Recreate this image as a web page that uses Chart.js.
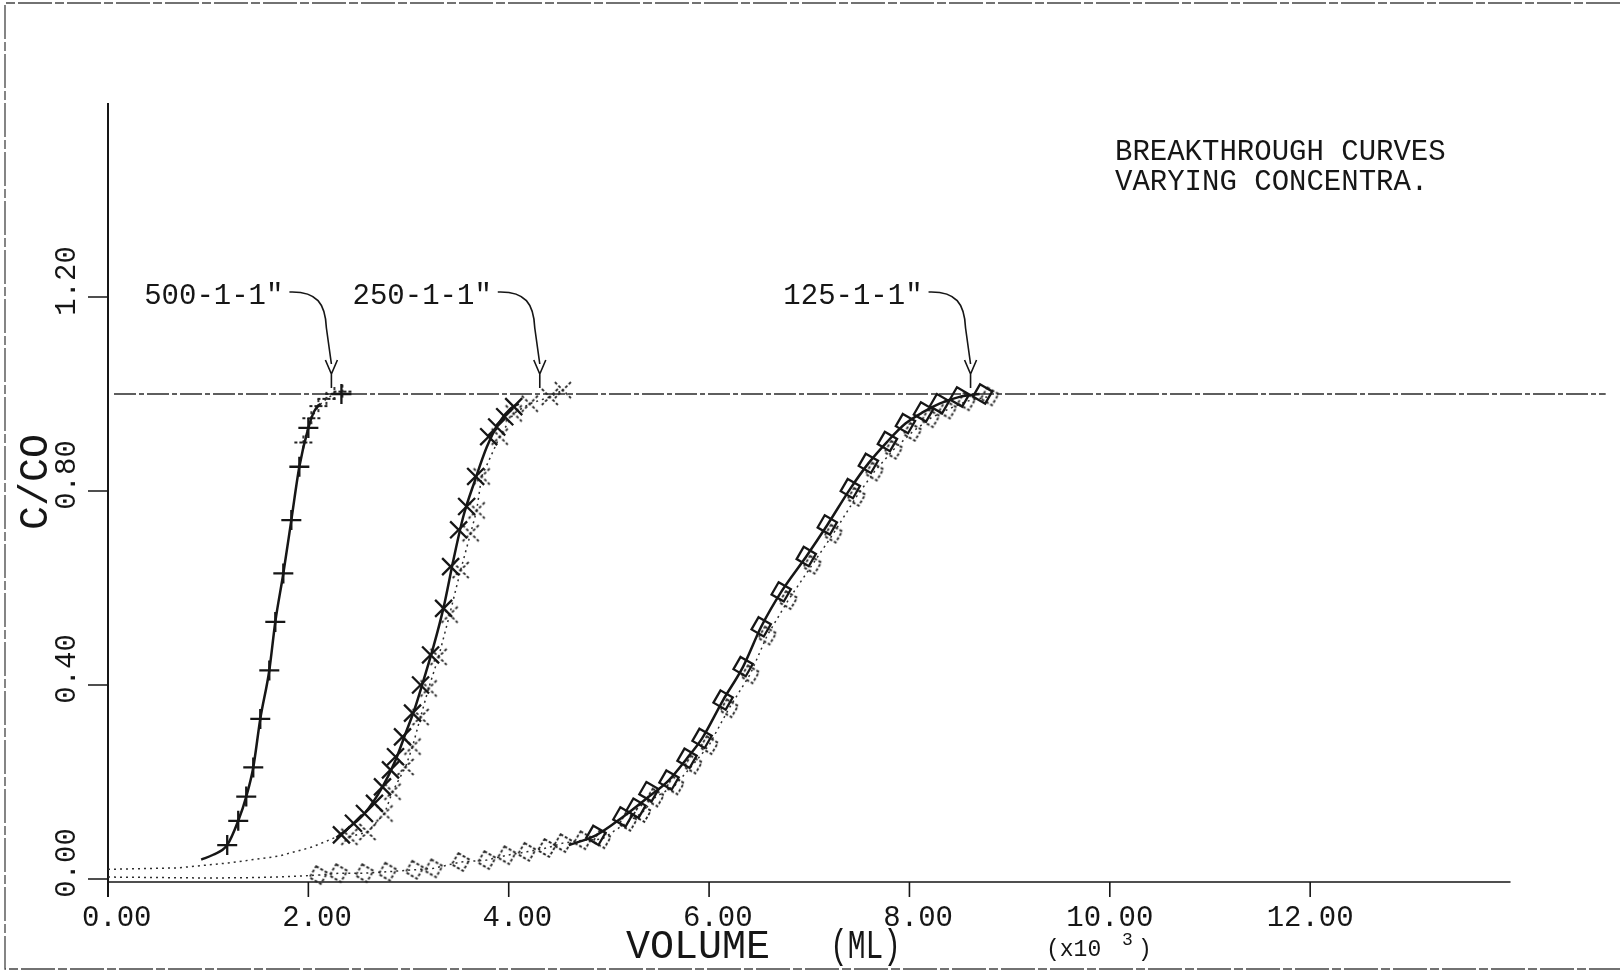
<!DOCTYPE html>
<html>
<head>
<meta charset="utf-8">
<script src="https://cdn.jsdelivr.net/npm/chart.js@4/dist/chart.umd.min.js"></script>
<style>
  html, body { margin: 0; padding: 0; background: #fff; }
  canvas { display: block; }
</style>
</head>
<body>
<canvas id="plot" width="1620" height="975"></canvas>
<script>
// volume in 10^3 mL, concentration as C/C0

// 500-1-1" run
const mk500X = [1.19, 1.30, 1.38, 1.45, 1.52, 1.61, 1.67, 1.75, 1.83, 1.91, 2.00, 2.33];
const mk500Y = [0.07, 0.12, 0.17, 0.23, 0.33, 0.43, 0.53, 0.63, 0.74, 0.85, 0.93, 1.00];
const fit500X = [0.93, 1.05, 1.19, 1.30, 1.38, 1.45, 1.52, 1.61, 1.67, 1.75, 1.83, 1.91, 2.00, 2.06, 2.12];
const fit500Y = [0.04, 0.05, 0.07, 0.12, 0.17, 0.23, 0.33, 0.43, 0.53, 0.63, 0.74, 0.85, 0.93, 0.965, 0.98];
const rep500X = [1.95, 2.03, 2.10, 2.18, 2.26, 2.34];
const rep500Y = [0.90, 0.95, 0.975, 0.99, 1.00, 1.005];

// 250-1-1" run
const mk250X = [2.33, 2.45, 2.56, 2.66, 2.74, 2.82, 2.87, 2.94, 3.04, 3.12, 3.22, 3.35, 3.42, 3.50, 3.58, 3.67, 3.80, 3.88, 3.96, 4.05];
const mk250Y = [0.091, 0.115, 0.135, 0.156, 0.19, 0.225, 0.252, 0.293, 0.342, 0.40, 0.462, 0.558, 0.644, 0.72, 0.768, 0.83, 0.912, 0.932, 0.953, 0.974];
const fit250X = [2.28, 2.40, 2.56, 2.74, 2.87, 2.97, 3.06, 3.15, 3.25, 3.35, 3.45, 3.55, 3.66, 3.78, 3.90, 4.02, 4.10];
const fit250Y = [0.085, 0.105, 0.135, 0.19, 0.245, 0.30, 0.35, 0.41, 0.48, 0.56, 0.66, 0.75, 0.82, 0.89, 0.94, 0.97, 0.98];
const rep250X = [2.41, 2.59, 2.76, 2.84, 2.97, 3.04, 3.12, 3.20, 3.30, 3.41, 3.52, 3.62, 3.68, 3.73, 3.91, 4.05, 4.21, 4.41, 4.54];
const rep250Y = [0.087, 0.097, 0.135, 0.18, 0.231, 0.273, 0.334, 0.393, 0.458, 0.545, 0.637, 0.713, 0.76, 0.83, 0.912, 0.96, 0.98, 0.994, 1.008];
const tail250X = [0.00, 0.70, 1.20, 1.70, 2.04, 2.33];
const tail250Y = [0.020, 0.023, 0.033, 0.047, 0.066, 0.091];

// 125-1-1" run
const mk125X = [4.87, 5.14, 5.27, 5.40, 5.60, 5.78, 5.93, 6.14, 6.34, 6.52, 6.72, 6.97, 7.18, 7.41, 7.59, 7.78, 7.96, 8.14, 8.30, 8.50, 8.73];
const mk125Y = [0.09, 0.128, 0.146, 0.18, 0.204, 0.249, 0.29, 0.369, 0.438, 0.52, 0.592, 0.665, 0.73, 0.805, 0.857, 0.902, 0.939, 0.963, 0.98, 0.994, 1.0];
const fit125X = [4.60, 4.87, 5.14, 5.40, 5.60, 5.78, 5.93, 6.14, 6.34, 6.52, 6.72, 6.97, 7.18, 7.41, 7.59, 7.78, 7.96, 8.14, 8.30, 8.50, 8.70];
const fit125Y = [0.07, 0.09, 0.128, 0.17, 0.204, 0.249, 0.29, 0.369, 0.438, 0.52, 0.592, 0.665, 0.73, 0.805, 0.857, 0.902, 0.939, 0.963, 0.98, 0.994, 1.0];
const rep125X = [2.10, 2.30, 2.56, 2.79, 3.06, 3.25, 3.52, 3.78, 3.98, 4.18, 4.38, 4.54, 4.74, 4.93, 5.19, 5.33, 5.46, 5.66, 5.84, 6.00, 6.20, 6.41, 6.58, 6.79, 7.03, 7.24, 7.47, 7.65, 7.84, 8.03, 8.21, 8.38, 8.57, 8.80];
const rep125Y = [0.008, 0.012, 0.012, 0.015, 0.019, 0.022, 0.035, 0.039, 0.049, 0.056, 0.064, 0.074, 0.080, 0.082, 0.118, 0.136, 0.168, 0.193, 0.236, 0.276, 0.352, 0.422, 0.502, 0.575, 0.648, 0.712, 0.788, 0.840, 0.885, 0.922, 0.950, 0.968, 0.985, 0.995];
const tail125X = [0.00, 0.50, 1.00, 1.50, 1.80, 2.10];
const tail125Y = [0.004, 0.003, 0.002, 0.003, 0.005, 0.008];

// C/C0 = 1 reference line
const refX = [0.06, 14.95];
const refY = [1.0, 1.0];

// axes
const xTicks = [0, 2, 4, 6, 8, 10, 12];
const yTicks = [0, 0.4, 0.8, 1.2];
const xAxisEnd = 14;
const yAxisEnd = 1.6;

// curve callouts
const curveLabels = ['500-1-1"', '250-1-1"', '125-1-1"'];
const arrowTipVol = [2.23, 4.31, 8.61];

const titleLines = ['BREAKTHROUGH CURVES', 'VARYING CONCENTRA.'];

const MONO = '"Liberation Mono", "DejaVu Sans Mono", monospace';
const INK = '#161616';

const pts = (xs, ys) => xs.map((v, i) => ({ x: v, y: ys[i] }));

// broken-stroke marker, like the second pen pass on the plotter
function dottedGlyph(kind) {
    const c = document.createElement('canvas');
    c.width = 26;
    c.height = 26;
    const g = c.getContext('2d');
    g.strokeStyle = '#222';
    g.lineWidth = 1.8;
    g.setLineDash([3, 2]);
    g.translate(13, 13);
    g.beginPath();
    if (kind === 'plus') {
        g.moveTo(-9, 0); g.lineTo(9, 0);
        g.moveTo(0, -7); g.lineTo(0, 7);
    } else if (kind === 'x') {
        g.moveTo(-8, -8); g.lineTo(8, 8);
        g.moveTo(8, -8); g.lineTo(-8, 8);
    } else {
        g.rotate(Math.PI / 6);
        g.rect(-6.5, -6.5, 13, 13);
    }
    g.stroke();
    return c;
}

function dottedLine(data, withGlyph) {
    return {
        data: data,
        showLine: true,
        borderColor: '#2e2e2e',
        borderWidth: 1.5,
        borderDash: [2, 4],
        pointStyle: withGlyph || false,
        pointRadius: withGlyph ? 10 : 0,
        clip: false
    };
}

function solidLine(data) {
    return {
        data: data,
        showLine: true,
        borderColor: INK,
        borderWidth: 2.5,
        cubicInterpolationMode: 'monotone',
        pointRadius: 0,
        clip: false
    };
}

function markers(data, style, radius, rotation) {
    return {
        data: data,
        showLine: false,
        pointStyle: style,
        pointRadius: radius,
        pointRotation: rotation || 0,
        pointBorderColor: INK,
        pointBackgroundColor: 'rgba(0,0,0,0)',
        pointBorderWidth: 2.3,
        clip: false
    };
}

function rotText(ctx, text, x, y) {
    ctx.save();
    ctx.translate(x, y);
    ctx.rotate(-Math.PI / 2);
    ctx.textAlign = 'center';
    ctx.textBaseline = 'middle';
    ctx.fillText(text, 0, 0);
    ctx.restore();
}

const plotterAxes = {
    id: 'plotterAxes',
    beforeDraw(chart) {
        const ctx = chart.ctx;
        ctx.save();
        ctx.fillStyle = '#fff';
        ctx.fillRect(0, 0, chart.width, chart.height);
        // page frame
        ctx.strokeStyle = '#444';
        ctx.lineWidth = 1.3;
        ctx.setLineDash([34, 3, 9, 3]);
        ctx.beginPath();
        ctx.moveTo(chart.width, 3);
        ctx.lineTo(5, 3);
        ctx.lineTo(5, 969);
        ctx.lineTo(chart.width, 969);
        ctx.stroke();
        ctx.restore();
    },
    beforeDatasetsDraw(chart) {
        const ctx = chart.ctx;
        const xs = chart.scales.x;
        const ys = chart.scales.y;
        const x0 = xs.getPixelForValue(0);
        const y0 = ys.getPixelForValue(0);
        const axisY = y0 + 3;
        ctx.save();
        ctx.strokeStyle = INK;
        ctx.lineWidth = 2;
        ctx.beginPath();
        ctx.moveTo(x0, axisY + 15);
        ctx.lineTo(x0, ys.getPixelForValue(yAxisEnd));
        ctx.stroke();
        ctx.lineWidth = 1.6;
        ctx.beginPath();
        ctx.moveTo(x0, axisY);
        ctx.lineTo(xs.getPixelForValue(xAxisEnd), axisY);
        xTicks.forEach(v => {
            const px = xs.getPixelForValue(v);
            ctx.moveTo(px, axisY);
            ctx.lineTo(px, axisY + 15);
        });
        yTicks.forEach(v => {
            const py = ys.getPixelForValue(v);
            ctx.moveTo(x0, py);
            ctx.lineTo(x0 - 20, py);
        });
        ctx.stroke();

        // tick labels
        ctx.fillStyle = INK;
        ctx.font = '29px ' + MONO;
        ctx.textAlign = 'center';
        ctx.textBaseline = 'middle';
        xTicks.forEach(v => {
            ctx.fillText(v.toFixed(2).padStart(5, ' '), xs.getPixelForValue(v), axisY + 36);
        });
        yTicks.forEach(v => {
            rotText(ctx, v.toFixed(2), 67, ys.getPixelForValue(v) - 16);
        });

        // axis titles
        ctx.font = '40px ' + MONO;
        ctx.textAlign = 'left';
        ctx.fillText('VOLUME', 626, 947);
        ctx.save();
        ctx.translate(830, 947);
        ctx.scale(0.74, 1);
        ctx.fillText('(ML)', 0, 0);
        ctx.restore();
        rotText(ctx, 'C/CO', 36, 482);
        ctx.font = '23px ' + MONO;
        ctx.fillText('(x10', 1046, 950);
        ctx.font = '18px ' + MONO;
        ctx.fillText('3', 1122, 940);
        ctx.font = '23px ' + MONO;
        ctx.fillText(')', 1138, 950);

        // title block
        ctx.font = '29px ' + MONO;
        titleLines.forEach((t, i) => ctx.fillText(t, 1115, 152 + i * 30));
        ctx.restore();
    },
    afterDatasetsDraw(chart) {
        const ctx = chart.ctx;
        const xs = chart.scales.x;
        const ys = chart.scales.y;
        ctx.save();
        ctx.strokeStyle = INK;
        ctx.fillStyle = INK;
        ctx.lineWidth = 1.6;
        ctx.font = '29px ' + MONO;
        ctx.textAlign = 'right';
        ctx.textBaseline = 'middle';
        curveLabels.forEach((label, i) => {
            const tx = xs.getPixelForValue(arrowTipVol[i]);
            const ty = ys.getPixelForValue(1.0) - 6;
            ctx.fillText(label, tx - 48, ty - 92);
            ctx.beginPath();
            ctx.moveTo(tx - 42, ty - 96);
            ctx.bezierCurveTo(tx - 14, ty - 97, tx - 6, ty - 84, tx - 5, ty - 60);
            ctx.lineTo(tx, ty - 24);
            ctx.moveTo(tx - 6, ty - 28);
            ctx.lineTo(tx, ty - 14);
            ctx.lineTo(tx + 6, ty - 28);
            ctx.moveTo(tx, ty - 14);
            ctx.lineTo(tx, ty);
            ctx.stroke();
        });
        ctx.restore();
    }
};

const refSet = {
    data: pts(refX, refY),
    showLine: true,
    borderColor: '#2a2a2a',
    borderWidth: 1.4,
    borderDash: [22, 3, 5, 3],
    pointRadius: 0,
    clip: false
};

new Chart(document.getElementById('plot'), {
    type: 'scatter',
    data: {
        datasets: [
            markers(pts(mk500X, mk500Y), 'cross', 10),
            markers(pts(mk250X, mk250Y), 'crossRot', 12),
            markers(pts(mk125X, mk125Y), 'rect', 10, 30),
            solidLine(pts(fit500X, fit500Y)),
            solidLine(pts(fit250X, fit250Y)),
            solidLine(pts(fit125X, fit125Y)),
            dottedLine(pts(rep500X, rep500Y), dottedGlyph('plus')),
            dottedLine(pts(rep250X, rep250Y), dottedGlyph('x')),
            dottedLine(pts(rep125X, rep125Y), dottedGlyph('square')),
            dottedLine(pts(tail250X, tail250Y)),
            dottedLine(pts(tail125X, tail125Y)),
            refSet
        ]
    },
    options: {
        responsive: false,
        animation: false,
        devicePixelRatio: 1,
        events: [],
        layout: { padding: { left: 108, top: 103, right: 3, bottom: 96 } },
        scales: {
            x: { type: 'linear', min: 0, max: 14.95, display: false },
            y: { type: 'linear', min: 0, max: yAxisEnd, display: false }
        },
        plugins: {
            legend: { display: false },
            tooltip: { enabled: false }
        }
    },
    plugins: [plotterAxes]
});
</script>
</body>
</html>
